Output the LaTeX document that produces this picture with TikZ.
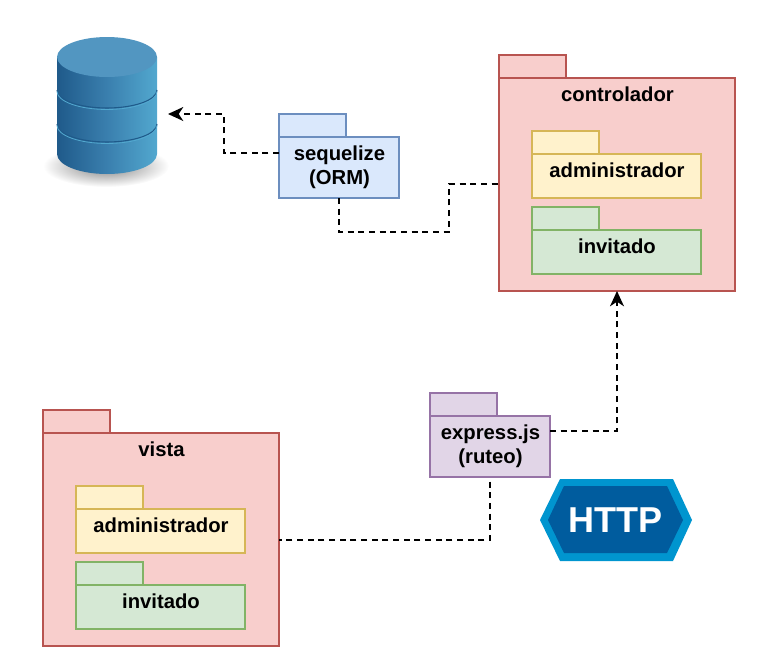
\documentclass[tikz,border=0pt]{standalone}
\usepackage{fontspec}
\setmainfont{Liberation Sans}
\usetikzlibrary{arrows.meta}
\definecolor{pinkfill}{HTML}{F8CECC}
\definecolor{pinkline}{HTML}{B85450}
\definecolor{yellowfill}{HTML}{FFF2CC}
\definecolor{yellowline}{HTML}{D6B656}
\definecolor{greenfill}{HTML}{D5E8D4}
\definecolor{greenline}{HTML}{82B366}
\definecolor{bluefill}{HTML}{DAE8FC}
\definecolor{blueline}{HTML}{6C8EBF}
\definecolor{purplefill}{HTML}{E1D5E7}
\definecolor{purpleline}{HTML}{9673A6}
\definecolor{dbdark}{HTML}{1F5A8A}
\definecolor{dbmid}{HTML}{3A7FAE}
\definecolor{dblight}{HTML}{52A8CF}
\definecolor{dbtop}{HTML}{5296C1}
\definecolor{httpouter}{HTML}{0095CF}
\definecolor{httpinner}{HTML}{005C9E}
\tikzset{
  depends/.style={line width=1.1pt, dash pattern=on 4.6pt off 3.4pt, -{Stealth[length=11.5pt,width=10.5pt,inset=3.5pt]}},
  link/.style={line width=1.1pt, dash pattern=on 4.6pt off 3.4pt},
  pkglabel/.style={font=\fontsize{15.2}{18}\selectfont\bfseries, align=center, inner sep=0pt, anchor=north},
}
\tikzset{
  pics/package/.style args={#1/#2/#3/#4}{% #1=width, #2=height, #3=fill, #4=line
    code = {
      \coordinate (-in) at (0, 16);
      \coordinate (-out) at (#1, 15);
      \node [draw=#4, fill=#3, line width=1.1pt, outer sep=0pt, inner sep=0pt, anchor=south west,
        minimum width=50.25pt, minimum height=17.25pt] (-tab) at (0, 0) {};
      \node [draw=#4, fill=#3, line width=1.1pt, outer sep=0pt, inner sep=0pt, anchor=north west,
        minimum width=#1*0.75pt, minimum height=#2*0.75pt] (-body) at (0, 0) {};
      \node [pkglabel] (-label) at (#1/2 + 0.5, 8.2) {\tikzpictext};
}}}
\begin{document}
\begin{tikzpicture}[x=0.75pt, y=-0.75pt]
  \useasboundingbox (0, 0) rectangle (761, 664);
  % database
  \shade [inner color=black!50, outer color=white] (106, 166) ellipse (63 and 21);
  \shade [left color=dbdark, right color=dblight, middle color=dbmid]
    (57, 57) -- (57, 154) arc (180:0:50 and 20) -- (157, 57) -- cycle;
  \draw [dbdark, line width=0.8pt] (57, 90) arc (180:0:50 and 18);
  \draw [dblight, line width=0.6pt] (57, 91.5) arc (180:0:50 and 18);
  \draw [dbdark, line width=0.8pt] (57, 124) arc (180:0:50 and 18);
  \draw [dblight, line width=0.6pt] (57, 125.5) arc (180:0:50 and 18);
  \fill [dbtop] (107, 57) ellipse (50 and 20);
  \coordinate (dbport) at (168, 114);
  % packages
  \pic [pic text={controlador}] (control) at (499, 78) {package={236/213/pinkfill/pinkline}};
  \pic [pic text={administrador}] (controladmin) at (532, 154) {package={169/44/yellowfill/yellowline}};
  \pic [pic text={invitado}] (controlguest) at (532, 230) {package={169/44/greenfill/greenline}};
  \pic [pic text={sequelize\\(ORM)}] (sequelize) at (279, 137) {package={120/61/bluefill/blueline}};
  \pic [pic text={vista}] (vista) at (43, 433) {package={236/213/pinkfill/pinkline}};
  \pic [pic text={administrador}] (vistaadmin) at (76, 509) {package={169/44/yellowfill/yellowline}};
  \pic [pic text={invitado}] (vistaguest) at (76, 585) {package={169/44/greenfill/greenline}};
  \pic [pic text={express.js\\(ruteo)}] (express) at (430, 416) {package={120/61/purplefill/purpleline}};
  % http badge
  \fill [httpouter] (540, 520) -- (560, 479) -- (673, 479) -- (692, 520) -- (673, 561) -- (560, 561) -- cycle;
  \fill [httpinner] (548, 520) -- (564, 486) -- (667, 486) -- (683, 520) -- (667, 553) -- (564, 553) -- cycle;
  \node [text=white, font=\fontsize{27}{27}\selectfont\bfseries, inner sep=0pt] (http) at (615.5, 520) {HTTP};
  % connectors
  \draw [depends] (sequelize-in) -- ++(-55, 0) |- (dbport);
  \draw [link] (sequelize-body.south) |- (449, 232) |- ([yshift=0.375pt]control-body.west);
  \draw [depends] (express-out) -| (control-body.south);
  \draw [link, dash phase=4.6pt] (express-body.south) |- ([yshift=-0.375pt]vista-body.east);
\end{tikzpicture}
\end{document}
